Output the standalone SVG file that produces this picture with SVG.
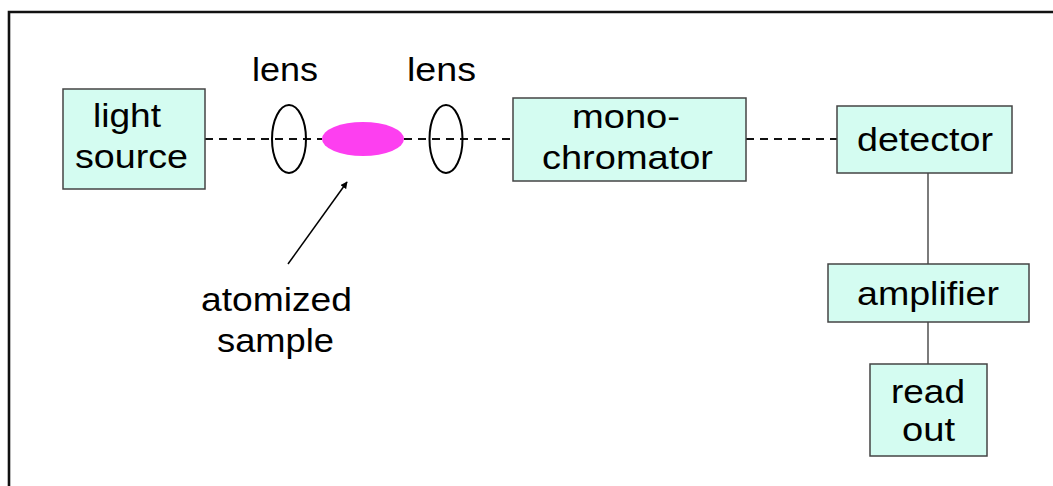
<svg xmlns="http://www.w3.org/2000/svg" width="1053" height="486" viewBox="0 0 1053 486">
  <defs>
    <style>
      .box { fill: #d4fcf1; stroke: #444; stroke-width: 1.5; }
      .lbl { font-family: "Liberation Sans", Arial, sans-serif; font-size: 34px; fill: #000; }
      .beam { stroke: #111; stroke-width: 1.8; stroke-dasharray: 8 6; fill: none; }
      .wire { stroke: #444; stroke-width: 1.4; fill: none; }
      .lens { fill: none; stroke: #000; stroke-width: 2; }
    </style>
    <marker id="arrowhead" viewBox="0 0 10 10" refX="9" refY="5" markerWidth="7" markerHeight="7" orient="auto" markerUnits="userSpaceOnUse">
      <path d="M0,0 L10,5 L0,10 z" fill="#000"/>
    </marker>
  </defs>

  <rect width="1053" height="486" fill="#fff"/>
  <!-- slide frame -->
  <path d="M9,486 V12 H1053" fill="none" stroke="#111" stroke-width="2.6"/>

  <!-- connectors -->
  <g id="connectors">
    <line class="beam" x1="205" y1="139" x2="322" y2="139"/>
    <line class="beam" x1="404" y1="139" x2="513" y2="139"/>
    <line class="beam" x1="746" y1="139" x2="837" y2="139"/>
    <line class="wire" x1="928" y1="173" x2="928" y2="264"/>
    <line class="wire" x1="928" y1="322" x2="928" y2="364"/>
    <line x1="288" y1="264" x2="347" y2="182" stroke="#000" stroke-width="1.5" marker-end="url(#arrowhead)"/>
  </g>

  <g id="light-source">
    <rect class="box" x="63" y="89" width="142" height="100"/>
    <text class="lbl" x="93" y="127" textLength="68" lengthAdjust="spacingAndGlyphs">light</text>
    <text class="lbl" x="75" y="168" textLength="113" lengthAdjust="spacingAndGlyphs">source</text>
  </g>

  <g id="lens-1">
    <ellipse class="lens" cx="289" cy="139" rx="17" ry="34"/>
    <text class="lbl" x="252" y="81" textLength="66" lengthAdjust="spacingAndGlyphs">lens</text>
  </g>

  <g id="sample">
    <ellipse cx="363" cy="139" rx="41" ry="17" fill="#fd3ff0"/>
    <text class="lbl" x="201" y="311" textLength="151" lengthAdjust="spacingAndGlyphs">atomized</text>
    <text class="lbl" x="217" y="352" textLength="117" lengthAdjust="spacingAndGlyphs">sample</text>
  </g>

  <g id="lens-2">
    <ellipse class="lens" cx="446" cy="139" rx="16.5" ry="34"/>
    <text class="lbl" x="407" y="81" textLength="69" lengthAdjust="spacingAndGlyphs">lens</text>
  </g>

  <g id="monochromator">
    <rect class="box" x="513" y="98" width="233" height="83"/>
    <text class="lbl" x="572" y="128" textLength="108" lengthAdjust="spacingAndGlyphs">mono-</text>
    <text class="lbl" x="542" y="169" textLength="171" lengthAdjust="spacingAndGlyphs">chromator</text>
  </g>

  <g id="detector">
    <rect class="box" x="837" y="106" width="175" height="67"/>
    <text class="lbl" x="857" y="151" textLength="136" lengthAdjust="spacingAndGlyphs">detector</text>
  </g>

  <g id="amplifier">
    <rect class="box" x="828" y="264" width="201" height="58"/>
    <text class="lbl" x="857" y="305" textLength="142" lengthAdjust="spacingAndGlyphs">amplifier</text>
  </g>

  <g id="read-out">
    <rect class="box" x="870" y="364" width="117" height="92"/>
    <text class="lbl" x="891" y="403" textLength="74" lengthAdjust="spacingAndGlyphs">read</text>
    <text class="lbl" x="902" y="441" textLength="53" lengthAdjust="spacingAndGlyphs">out</text>
  </g>
</svg>
